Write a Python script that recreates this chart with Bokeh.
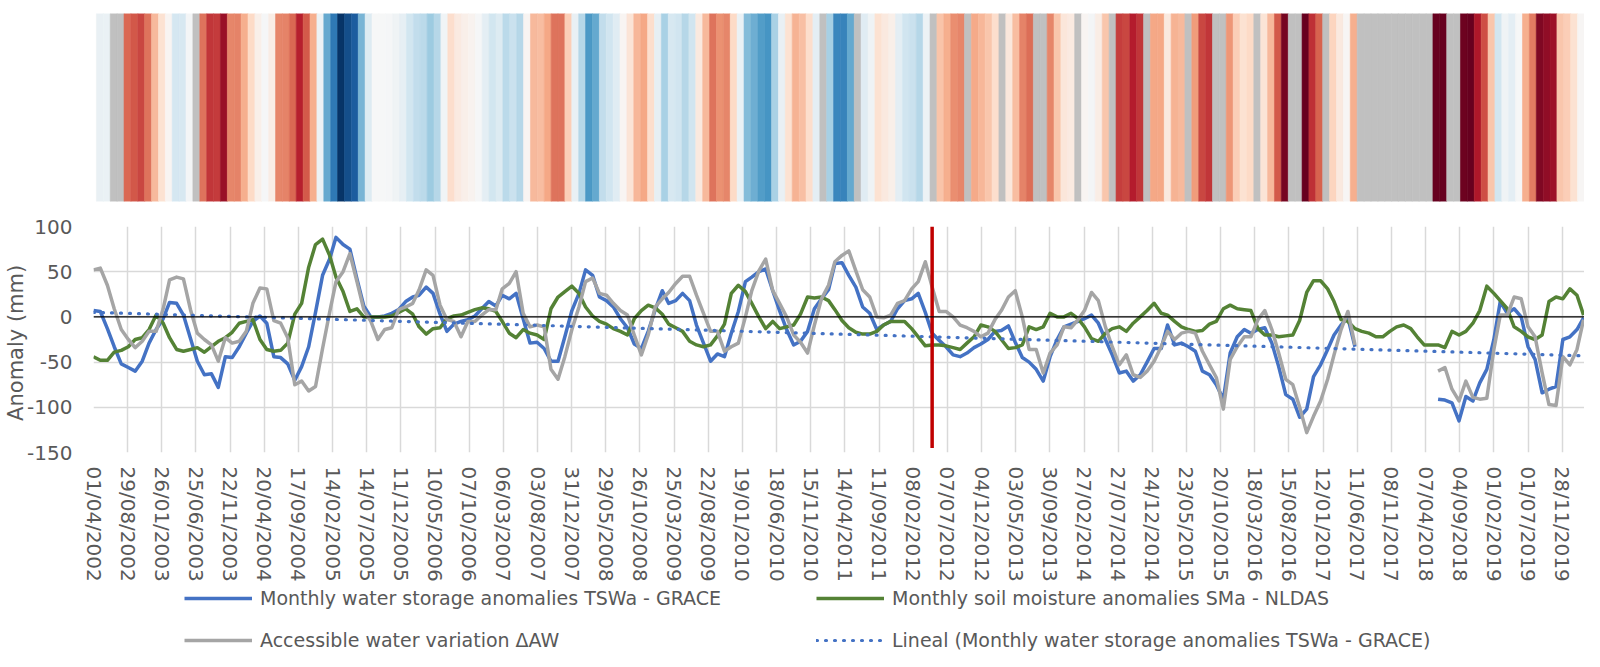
import numpy as np
import pandas as pd
from bokeh.plotting import figure
from bokeh.models import (Range1d, FixedTicker, DatetimeTickFormatter, Span, Legend,
                          LegendItem, ColumnDataSource, LinearColorMapper)
from bokeh.layouts import column
from bokeh.embed import file_html
from bokeh.resources import INLINE

# ---------------- data (monthly, first month = April 2002) ----------------
first_month = "2002-04-01"
n_months = 216
N = None

# Monthly water storage anomalies TSWa - GRACE (mm)
tswa = [
    7, 6, -13, -33, -52, -56, -60, -49, -29, -14, -2, 16,
    15, 2, -24, -49, -64, -63, -78, -44, -45, -33, -18, -5,
    1, -7, -44, -45, -52, -70, -55, -33, 5, 46, 64, 88,
    80, 75, 42, 12, 0, 0, 1, 4, 8, 17, 22, 24,
    33, 26, 3, -16, -8, -5, -3, 1, 9, 17, 12, 24,
    20, 26, -2, -29, -28, -35, -49, -49, -22, 7, 26, 52,
    46, 22, 18, 11, -2, -12, -30, -35, -16, 8, 29, 15,
    18, 26, 18, -9, -29, -49, -41, -44, -18, 6, 39, 44,
    50, 53, 29, 7, -14, -31, -27, -16, 9, 20, 30, 59,
    60, 46, 33, 11, 4, -14, -9, -5, 9, 18, 20, 26,
    5, -18, -26, -33, -42, -44, -40, -34, -30, -25, -16, -15,
    -10, -28, -45, -50, -58, -71, -44, -25, -11, -8, -5, -2,
    2, -7, -25, -42, -62, -60, -71, -64, -50, -35, -35, -9,
    -31, -29, -33, -38, -60, -64, -75, -91, -40, -22, -14, -18,
    -14, -12, -29, -55, -86, -91, -111, -102, -66, -53, -36, -20,
    -9, -1, -33, N, N, N, N, N, N, N, N, N,
    N, N, -91, -92, -95, -115, -88, -93, -73, -58, -25, 17,
    4, 9, 0, -33, -47, -84, -80, -77, -25, -22, -14, -1,
]

# Monthly soil moisture anomalies SMa - NLDAS (mm)
sma = [
    -44, -48, -48, -39, -37, -33, -25, -23, -14, 2, -7, -23,
    -36, -38, -36, -34, -39, -33, -27, -23, -17, -7, -5, -3,
    -25, -36, -38, -37, -29, 3, 15, 55, 80, 86, 68, 44,
    28, 6, 9, 0, 0, 0, 0, 1, 5, 9, 3, -11,
    -19, -13, -12, -2, 1, 2, 5, 8, 10, 9, 6, -5,
    -18, -23, -14, -18, -20, -25, 9, 22, 28, 34, 26, 11,
    1, -5, -8, -13, -16, -20, -2, 7, 13, 10, 3, -8,
    -12, -16, -27, -31, -33, -31, -21, -8, 26, 35, 28, 15,
    0, -13, -5, -13, -11, -9, 3, 22, 21, 22, 18, 8,
    -4, -12, -17, -19, -19, -16, -9, -5, -5, -5, -13, -22,
    -32, -31, -31, -32, -34, -36, -29, -22, -9, -11, -16, -25,
    -35, -34, -31, -11, -14, -11, 4, 0, 0, 4, -2, -11,
    -24, -27, -18, -13, -11, -16, -7, 0, 7, 15, 4, 2,
    -5, -11, -14, -16, -15, -8, -5, 9, 13, 9, 8, 7,
    -13, -20, -20, -22, -21, -20, -4, 27, 40, 40, 31, 17,
    -3, -5, -13, -16, -18, -22, -22, -16, -11, -9, -13, -22,
    -31, -31, -31, -34, -16, -20, -16, -7, 7, 34, 26, 18,
    9, -11, -16, -22, -25, -20, 17, 22, 20, 31, 24, 2,
]

# Accessible water variation (mm)
daw = [
    52, 54, 35, 9, -14, -25, -34, -27, -16, -16, 9, 41,
    44, 42, 8, -18, -25, -31, -49, -23, -29, -27, -16, 15,
    32, 31, -4, -7, -23, -75, -71, -82, -77, -35, 5, 39,
    50, 70, 39, 8, -5, -25, -14, -12, 8, 11, 15, 30,
    52, 46, 13, -3, -5, -22, -5, -5, 2, 8, 8, 31,
    37, 50, 4, -11, -9, -11, -58, -69, -44, -14, 11, 39,
    43, 26, 24, 15, 7, 2, -20, -42, -20, 11, 20, 27,
    37, 45, 45, 24, 4, -16, -16, -38, -33, -29, 0, 29,
    51, 64, 29, 15, 0, -20, -28, -40, -9, 20, 35, 61,
    68, 73, 51, 30, 22, 0, -1, 2, 15, 18, 31, 39,
    61, 33, 6, 6, 0, -9, -12, -16, -22, -18, -3, 7,
    22, 29, 0, -36, -36, -62, -40, -31, -11, -12, -3, 7,
    27, 18, -11, -33, -53, -42, -64, -67, -60, -49, -33, -16,
    -25, -18, -16, -18, -38, -53, -67, -102, -47, -33, -22, -22,
    -3, 7, -14, -40, -69, -75, -100, -128, -110, -93, -69, -42,
    -14, 6, -31, N, N, N, N, N, N, N, N, N,
    N, N, -60, -56, -80, -93, -71, -89, -91, -90, -36, 2,
    2, 22, 20, -11, -22, -62, -97, -98, -44, -53, -36, -3,
]

# months without GRACE solution (grey stripes), as month index from April 2002
stripe_missing = [2, 3, 14, 105, 110, 121, 126, 131, 136, 137, 142, 147, 152, 158,
                  162, 163, 168, 173, 174, 178, 183, 184, 185, 186, 187, 188, 189,
                  190, 191, 192, 193, 196, 197]

# linear trend of TSWa (value at first and last month)
trend_ends = [5.0, -43.0]

# vertical marker
marker_date = "2012-05-01"
marker_span = [-145, 100]

tick_first = "2002-04-01"
tick_step_days = 150
n_ticks = 44
y_ticks = [-150, -100, -50, 0, 50, 100]
y_tick_labels = ["-150", "-100", "-50", "0", "50", "100"]

labels = ["Monthly water storage anomalies TSWa - GRACE",
          "Monthly soil moisture anomalies SMa - NLDAS",
          "Accessible water variation \u0394AW",
          "Lineal (Monthly water storage anomalies TSWa - GRACE)"]

# ---------------- styling ----------------
FONT = "DejaVu Sans"
TXT = "#595959"
BLUE, GREEN, GREY, RED = "#4472C4", "#548235", "#A5A5A5", "#C00000"
W = 1584
LW = 3.5
TREND_DASH = "1 8"


def arr(v):
    return np.array([np.nan if x is None else x for x in v], dtype=float)


months = pd.date_range(first_month, periods=n_months, freq="MS")

# ---- stripes ----
rdbu = ['#67001f', '#b2182b', '#d6604d', '#f4a582', '#fddbc7', '#f7f7f7',
        '#d1e5f0', '#92c5de', '#4393c3', '#2166ac', '#053061']


def h2r(h):
    return tuple(int(h[i:i + 2], 16) for i in (1, 3, 5))


anch = [h2r(c) for c in rdbu]
pal = []
for k in range(256):
    t = k / 255 * (len(anch) - 1)
    j = min(int(t), len(anch) - 2)
    f = t - j
    c = tuple(round(anch[j][q] * (1 - f) + anch[j + 1][q] * f) for q in range(3))
    pal.append('#%02x%02x%02x' % c)

stripe_vals = arr(tswa)
stripe_vals[stripe_missing] = np.nan
idx = np.arange(n_months)
ssrc = ColumnDataSource(dict(left=idx, right=idx + 1, v=stripe_vals))
cmap = LinearColorMapper(palette=pal, low=-90, high=90, nan_color="#c0c0c0")

sp = figure(width=W, height=204, x_range=Range1d(-0.43, n_months), y_range=Range1d(0, 1),
            output_backend="svg", toolbar_location=None,
            x_axis_location=None, y_axis_location=None,
            min_border_left=93, min_border_right=0, min_border_top=13, min_border_bottom=3)
sp.grid.visible = False
sp.outline_line_color = None
sp.quad(left="left", right="right", bottom=0, top=1, source=ssrc,
        fill_color={"field": "v", "transform": cmap},
        line_color={"field": "v", "transform": cmap}, line_width=0.6)

# ---- main chart ----
t_end = months[-1] + pd.Timedelta(days=4)
p = figure(width=W, height=380, x_axis_type="datetime",
           x_range=Range1d(months[0], t_end), y_range=Range1d(-150, 100),
           output_backend="svg", toolbar_location=None,
           min_border_left=93, min_border_right=0, min_border_top=22, min_border_bottom=131)
p.outline_line_color = None

t0 = pd.Timestamp(tick_first)
xt = [int((t0 + pd.Timedelta(days=tick_step_days * k)).value // 10**6) for k in range(n_ticks)]
p.xaxis.ticker = FixedTicker(ticks=xt)
fmt = "%d/%m/%Y"
p.xaxis.formatter = DatetimeTickFormatter(microseconds=fmt, milliseconds=fmt, seconds=fmt,
                                          minsec=fmt, minutes=fmt, hourmin=fmt, hours=fmt,
                                          days=fmt, months=fmt, years=fmt)
p.xaxis.major_label_orientation = -np.pi / 2
p.yaxis.ticker = FixedTicker(ticks=y_ticks)
p.yaxis.major_label_overrides = {v: s for v, s in zip(y_ticks, y_tick_labels)}

for ax in (p.xaxis, p.yaxis):
    ax.axis_line_color = None
    ax.major_tick_line_color = None
    ax.minor_tick_line_color = None
    ax.major_tick_out = 0
    ax.major_tick_in = 0
    ax.minor_tick_out = 0
    ax.major_label_text_font = FONT
    ax.major_label_text_font_size = "20px"
    ax.major_label_text_color = TXT
p.xaxis.major_label_standoff = 14
p.yaxis.major_label_standoff = 21
p.yaxis.axis_label = "Anomaly  (mm)"
p.yaxis.axis_label_text_font = FONT
p.yaxis.axis_label_text_font_size = "21px"
p.yaxis.axis_label_text_font_style = "normal"
p.yaxis.axis_label_text_color = TXT
p.yaxis.axis_label_standoff = -4

p.xgrid.grid_line_color = "#d9d9d9"
p.ygrid.grid_line_color = "#d9d9d9"
p.xgrid.grid_line_width = 1.5
p.ygrid.grid_line_width = 1.5

src = ColumnDataSource(dict(x=months, tswa=arr(tswa), sma=arr(sma), daw=arr(daw)))
p.line("x", "tswa", source=src, line_color=BLUE, line_width=LW, line_join="round")
p.line("x", "sma", source=src, line_color=GREEN, line_width=LW, line_join="round")
p.line("x", "daw", source=src, line_color=GREY, line_width=LW, line_join="round")
p.line([months[0], months[-1]], trend_ends, line_color=BLUE, line_width=3.2,
       line_dash=TREND_DASH, line_cap="round")
p.add_layout(Span(location=0, dimension="width", line_color="black", line_width=1.3))
md = pd.Timestamp(marker_date)
p.line([md, md], marker_span, line_color=RED, line_width=3.5)

# ---- legend (own strip below the chart) ----
lg = figure(width=W, height=67, x_range=Range1d(0, 1), y_range=Range1d(0, 1),
            output_backend="svg", toolbar_location=None,
            x_axis_location=None, y_axis_location=None,
            min_border_left=93, min_border_right=0, min_border_top=0, min_border_bottom=0)
lg.grid.visible = False
lg.outline_line_color = None
off = [-5, -4]  # keeps the legend proxies outside the visible range
e_b = lg.line(off, off, line_color=BLUE, line_width=LW)
e_g = lg.line(off, off, line_color=GREEN, line_width=LW)
e_a = lg.line(off, off, line_color=GREY, line_width=LW)
e_t = lg.line(off, off, line_color=BLUE, line_width=3.2, line_dash=TREND_DASH,
              line_cap="round")
legend = Legend(items=[LegendItem(label=labels[0], renderers=[e_b]),
                       LegendItem(label=labels[1], renderers=[e_g]),
                       LegendItem(label=labels[2], renderers=[e_a]),
                       LegendItem(label=labels[3], renderers=[e_t])],
                location=(91, 0), orientation="horizontal", ncols=2,
                glyph_width=68, glyph_height=22, label_height=22, label_width=536,
                label_standoff=8, spacing=20, padding=0, margin=0,
                border_line_color=None, background_fill_alpha=0,
                label_text_font=FONT, label_text_font_size="19px", label_text_color=TXT)
lg.add_layout(legend, "center")

layout = column(sp, p, lg)
open("out.html", "w").write(file_html(layout, INLINE))
